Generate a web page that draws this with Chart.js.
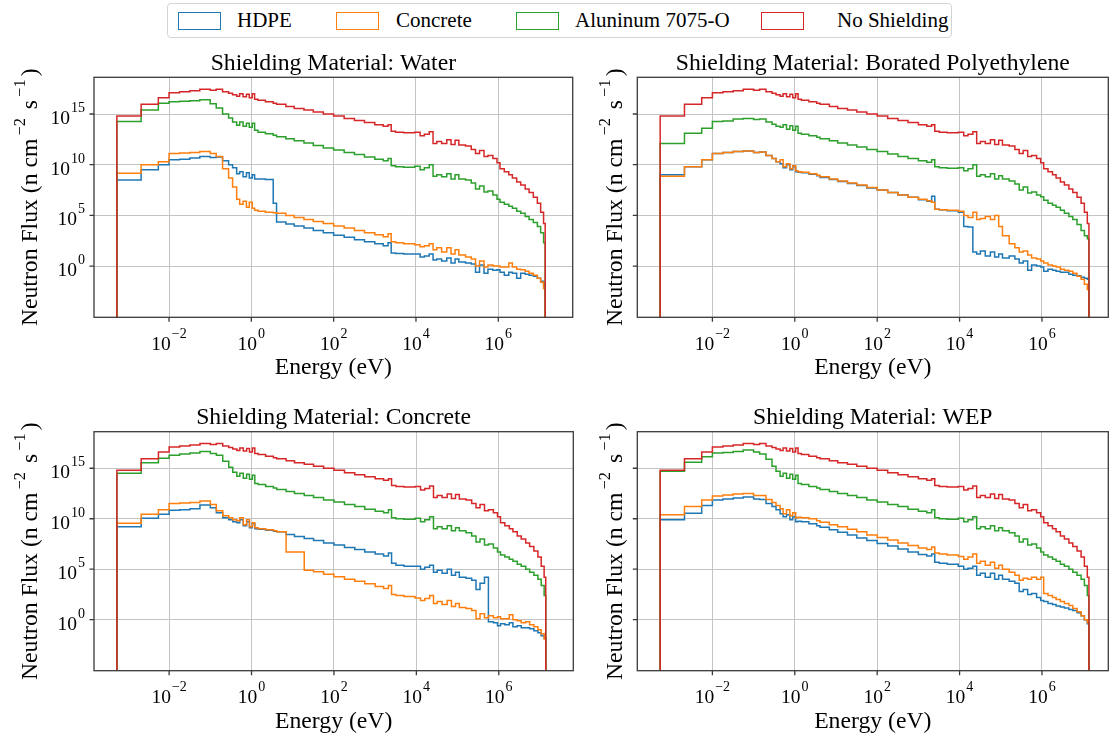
<!DOCTYPE html>
<html>
<head>
<meta charset="utf-8">
<script src="https://cdn.jsdelivr.net/npm/chart.js@4.4.1/dist/chart.umd.min.js"></script>
<style>
  html, body { margin: 0; padding: 0; background: #fff; }
  body { width: 1110px; height: 740px; position: relative; overflow: hidden; font-family: "Liberation Serif", "Times New Roman", serif; }
  canvas { position: absolute; }
  #legend { position: absolute; left: 167px; top: 3px; width: 785px; height: 35px; border: 1px solid #d4d4d4; border-radius: 4px; box-sizing: border-box; }
  #legend .patch { position: absolute; top: 8px; width: 43px; height: 18px; border: 1.5px solid; box-sizing: border-box; }
  #legend .txt { position: absolute; top: 3px; font-size: 21px; line-height: 26px; color: #000; white-space: nowrap; }
</style>
</head>
<body>
<div id="legend">
  <div class="patch" style="left:10px;border-color:#1f77b4"></div><div class="txt" style="left:69px">HDPE</div>
  <div class="patch" style="left:168px;border-color:#ff7f0e"></div><div class="txt" style="left:228px">Concrete</div>
  <div class="patch" style="left:348px;border-color:#2ca02c"></div><div class="txt" style="left:407px">Aluninum 7075-O</div>
  <div class="patch" style="left:593px;border-color:#d62728"></div><div class="txt" style="left:669px">No Shielding</div>
</div>
<canvas id="cWater" width="590" height="350" style="left:0;top:40px"></canvas>
<canvas id="cBorated" width="520" height="350" style="left:590px;top:40px"></canvas>
<canvas id="cConcrete" width="590" height="350" style="left:0;top:390px"></canvas>
<canvas id="cWEP" width="520" height="350" style="left:590px;top:390px"></canvas>
<script>
// Group boundaries (eV); each series holds log10 of the flux in the bin [E_i, E_i+1).
const energyEdges = [5.4e-4, 2.1e-3, 5.5e-3, 1.0e-2, 1.8e-2, 3.2e-2, 5.6e-2, 0.1, 0.14, 0.2,
  0.28, 0.35, 0.44, 0.52, 0.63, 0.76, 0.89, 1.05, 1.2, 1.45,
  2.2, 3.4, 4.1, 6.9, 11, 19, 32, 56, 100, 180,
  320, 560, 1000, 1600, 2100, 2500, 3200, 5000, 9300, 1.26e4,
  1.6e4, 2.1e4, 2.6e4, 3.2e4, 4.2e4, 5.6e4, 7.1e4, 8.9e4, 1.1e5, 1.6e5,
  2.2e5, 2.8e5, 3.5e5, 4.5e5, 5.6e5, 7.4e5, 9.3e5, 1.1e6, 1.4e6, 1.8e6,
  2.2e6, 2.8e6, 3.5e6, 4.5e6, 5.6e6, 7.1e6, 8.9e6, 1.07e7, 1.26e7, 1.38e7];

const noShielding = [14.8, 15.95, 16.6, 17.1, 17.2, 17.3, 17.45, 17.35, 17.45, 17.2,
  17.05, 16.9, 16.75, 17.0, 16.7, 16.95, 16.6, 17.0, 16.45, 16.35,
  16.2, 16.05, 15.95, 15.75, 15.55, 15.4, 15.2, 15.0, 14.8, 14.55,
  14.35, 14.15, 13.95, 13.8, 13.95, 13.3, 13.2, 13.15, 13.2, 12.85,
  13.0, 13.25, 12.1, 12.3, 12.1, 12.45, 12.0, 12.4, 11.95, 11.85,
  11.5, 11.1, 11.4, 10.8, 10.9, 10.6, 10.2, 9.6, 9.3, 9.0,
  8.7, 8.3, 8.0, 7.6, 7.25, 6.8, 6.2, 5.3, 4.2];

// Water
const hdpeWater = [8.5, 9.5, 10.0, 10.5, 10.55, 10.65, 10.8, 10.7, 10.75, 10.4,
  10.0, 9.7, 9.1, 9.3, 8.8, 9.2, 8.7, 9.0, 8.6, 8.6,
  8.55, 6.2, 4.35, 4.15, 3.95, 3.75, 3.5, 3.3, 3.05, 2.85,
  2.6, 2.4, 2.2, 2.0, 2.3, 1.3, 1.25, 1.2, 1.2, 0.9,
  1.0, 1.2, 0.6, 0.7, 0.5, 0.8, 0.3, 0.7, 0.4, 0.3,
  0.2, -0.6, 0.1, -0.7, -0.3, -0.4, -0.35, -0.6, -0.9, -0.6,
  -0.7, -1.2, -0.7, -0.8, -0.9, -1.0, -1.2, -1.5, -1.8];
const concreteWater = [9.15, 10.0, 10.3, 11.1, 11.15, 11.2, 11.3, 11.1, 10.8, 9.6,
  8.7, 7.8, 6.6, 6.1, 6.4, 5.8, 6.3, 5.7, 5.5, 5.4,
  5.3, 5.25, 5.2, 5.0, 4.8, 4.6, 4.4, 4.2, 3.95, 3.75,
  3.5, 3.3, 3.1, 2.9, 3.2, 2.4, 2.3, 2.2, 2.1, 1.9,
  2.0, 2.2, 1.6, 1.8, 1.4, 1.8, 1.2, 1.6, 1.1, 0.9,
  0.7, 0.0, 0.5, -0.1, 0.1, 0.0, 0.0, -0.1, -0.1, 0.3,
  -0.1, -0.3, -0.35, -0.5, -0.7, -0.9, -1.2, -1.6, -2.2];
const aluWater = [14.25, 15.4, 16.05, 16.2, 16.25, 16.3, 16.4, 16.0, 15.6, 15.0,
  14.6, 14.2, 13.9, 14.2, 13.8, 14.1, 13.7, 14.1, 13.4, 13.2,
  13.05, 12.9, 12.75, 12.55, 12.35, 12.15, 11.9, 11.65, 11.45, 11.2,
  11.0, 10.75, 10.55, 10.4, 10.6, 9.9, 9.8, 9.75, 9.85, 9.5,
  9.7, 10.0, 8.85, 9.0, 8.8, 9.1, 8.6, 9.0, 8.6, 8.5,
  8.2, 7.6, 7.9, 7.3, 7.4, 7.0, 6.6, 6.3, 6.1, 5.9,
  5.7, 5.4, 5.2, 4.9, 4.6, 4.3, 3.9, 3.3, 2.3];

// Borated polyethylene
const hdpeBorated = [9.0, 9.8, 10.5, 11.1, 11.2, 11.3, 11.35, 11.2, 11.25, 10.9,
  10.6, 10.3, 10.1, 9.7, 10.0, 9.5, 9.8, 9.3, 9.25, 9.2,
  9.05, 8.9, 8.75, 8.55, 8.35, 8.15, 7.95, 7.7, 7.5, 7.25,
  7.0, 6.8, 6.55, 6.4, 6.9, 5.6, 5.55, 5.45, 5.3, 3.9,
  3.85, 1.4, 1.2, 1.5, 1.0, 1.4, 0.9, 1.2, 0.8, 1.0,
  0.7, 0.3, 0.5, -0.4, 0.1, 0.0, -0.1, -0.5, -0.3, -0.4,
  -0.5, -0.6, -0.6, -0.8, -0.9, -0.95, -1.1, -1.2, -1.3];
const concreteBorated = [8.85, 9.8, 10.5, 11.1, 11.2, 11.3, 11.35, 11.2, 11.25, 10.9,
  10.6, 10.3, 10.5, 9.8, 10.1, 9.6, 9.9, 9.4, 9.3, 9.25,
  9.1, 8.95, 8.8, 8.6, 8.4, 8.2, 8.0, 7.75, 7.5, 7.25,
  7.0, 6.8, 6.6, 6.45, 6.3, 5.6, 5.55, 5.5, 5.4, 5.0,
  4.8, 5.3, 4.6, 4.7, 4.9, 4.6, 5.0, 3.9, 3.0, 2.2,
  1.8, 1.4, 1.5, 1.1, 0.8, 0.7, 0.5, 0.3, 0.1, 0.0,
  -0.1, -0.3, -0.4, -0.5, -0.7, -1.0, -1.3, -1.8, -2.3];
const aluBorated = [12.1, 13.1, 13.6, 14.25, 14.3, 14.5, 14.55, 14.45, 14.5, 14.2,
  14.0, 13.8, 13.7, 13.95, 13.5, 13.85, 13.4, 13.8, 13.1, 13.0,
  12.85, 12.7, 12.55, 12.35, 12.15, 11.95, 11.75, 11.5, 11.3, 11.05,
  10.8, 10.6, 10.4, 10.25, 10.5, 9.8, 9.7, 9.65, 9.7, 9.4,
  9.6, 10.0, 8.85, 9.0, 8.8, 9.1, 8.6, 8.9, 8.6, 8.4,
  8.1, 7.5, 7.8, 7.2, 7.3, 7.0, 6.85, 6.5, 6.2, 6.0,
  5.8, 5.5, 5.2, 4.9, 4.6, 4.1, 3.5, 3.0, 2.7];

// Concrete
const hdpeConcrete = [9.2, 10.05, 10.45, 10.85, 10.9, 11.0, 11.35, 11.1, 10.6, 10.1,
  9.9, 9.7, 9.6, 9.9, 9.3, 9.7, 9.1, 9.5, 9.0, 8.95,
  8.85, 8.75, 8.7, 8.45, 8.25, 8.05, 7.85, 7.6, 7.4, 7.15,
  6.95, 6.7, 6.5, 6.3, 6.6, 5.6, 5.4, 5.3, 5.3, 5.0,
  5.2, 5.4, 4.7, 4.9, 4.6, 5.0, 4.4, 4.7, 4.2, 4.1,
  3.9, 3.0, 3.6, 4.2, -0.2, -0.3, -0.6, -0.4, -0.5, -0.3,
  -0.7, -0.6, -0.8, -0.8, -0.9, -1.1, -1.3, -1.6, -1.8];
const concreteConcrete = [9.55, 10.45, 10.9, 11.5, 11.55, 11.6, 11.75, 11.4, 10.8, 10.3,
  10.1, 9.9, 9.8, 10.1, 9.4, 9.9, 9.2, 9.6, 9.1, 9.0,
  8.9, 8.8, 8.7, 6.7, 6.7, 4.9, 4.75, 4.5, 4.25, 4.0,
  3.8, 3.55, 3.3, 3.1, 3.4, 2.5, 2.4, 2.3, 2.15, 1.9,
  2.1, 2.4, 1.6, 1.8, 1.5, 1.9, 1.3, 1.6, 1.2, 1.1,
  0.9, 0.1, 0.6, 0.2, 0.4, 0.2, 0.3, 0.1, 0.1, 0.5,
  0.0, -0.1, -0.3, -0.2, -0.5, -0.7, -1.0, -1.4, -1.9];
const aluConcrete = [14.5, 15.55, 16.0, 16.3, 16.4, 16.5, 16.65, 16.45, 16.3, 15.7,
  15.1, 14.6, 14.2, 14.5, 14.0, 14.4, 13.9, 14.3, 13.5, 13.4,
  13.2, 13.05, 12.9, 12.7, 12.5, 12.3, 12.1, 11.85, 11.65, 11.4,
  11.2, 10.95, 10.75, 10.6, 10.9, 10.1, 10.0, 9.95, 10.05, 9.7,
  9.9, 10.2, 9.0, 9.2, 9.0, 9.3, 8.8, 9.1, 8.8, 8.6,
  8.3, 7.7, 8.0, 7.4, 7.5, 7.1, 6.7, 6.4, 6.2, 6.0,
  5.8, 5.5, 5.3, 5.0, 4.7, 4.4, 4.0, 3.4, 2.4];

// WEP
const hdpeWEP = [9.9, 10.55, 11.3, 11.85, 11.95, 12.05, 12.15, 11.95, 11.9, 11.5,
  11.2, 10.9, 10.5, 10.2, 10.4, 9.9, 10.2, 9.7, 9.75, 9.7,
  9.5, 9.3, 9.15, 8.9, 8.65, 8.4, 8.1, 7.85, 7.55, 7.3,
  7.0, 6.7, 6.45, 6.3, 6.5, 5.7, 5.6, 5.5, 5.3, 5.0,
  5.1, 5.3, 4.4, 4.6, 4.2, 4.6, 4.0, 4.4, 4.0, 3.8,
  3.6, 2.8, 3.0, 2.5, 2.6, 2.2, 1.9, 1.8, 1.6, 1.5,
  1.35, 1.25, 1.15, 1.0, 0.9, 0.7, 0.4, 0.0, -0.4];
const concreteWEP = [10.4, 11.2, 11.85, 12.25, 12.35, 12.45, 12.5, 12.3, 12.3, 11.9,
  11.6, 11.3, 11.0, 10.5, 10.9, 10.3, 10.6, 10.1, 10.15, 10.1,
  10.0, 9.8, 9.65, 9.4, 9.2, 8.95, 8.7, 8.4, 8.15, 7.9,
  7.6, 7.35, 7.1, 6.95, 7.2, 6.6, 6.5, 6.4, 6.25, 6.0,
  6.2, 6.5, 5.6, 5.8, 5.4, 5.7, 5.1, 5.4, 5.0, 4.7,
  4.4, 3.9, 4.1, 4.0, 4.2, 4.0, 4.2, 2.6, 2.4, 2.2,
  2.0, 1.8, 1.6, 1.4, 1.1, 0.8, 0.4, 0.0, -0.3];
const aluWEP = [14.7, 15.6, 16.15, 16.5, 16.55, 16.65, 16.8, 16.6, 16.4, 15.9,
  15.2, 14.7, 14.2, 14.5, 14.0, 14.4, 13.9, 14.3, 13.5, 13.4,
  13.2, 13.05, 12.9, 12.7, 12.5, 12.3, 12.1, 11.85, 11.65, 11.4,
  11.2, 10.95, 10.75, 10.6, 10.9, 10.1, 10.0, 9.95, 10.05, 9.7,
  9.9, 10.2, 9.0, 9.2, 9.0, 9.3, 8.8, 9.1, 8.8, 8.6,
  8.3, 7.7, 8.0, 7.4, 7.5, 7.1, 6.7, 6.4, 6.2, 6.0,
  5.8, 5.5, 5.3, 5.0, 4.7, 4.4, 4.0, 3.4, 2.4];

const seriesNames = ["HDPE", "Concrete", "Aluninum 7075-O", "No Shielding"];
const xTickVals = [1e-2, 1, 1e2, 1e4, 1e6];
const yTickVals = [1, 1e5, 1e10, 1e15];

const COLORS = ["#1f77b4", "#ff7f0e", "#2ca02c", "#d62728"];
const SERIF = "'Liberation Serif', 'Times New Roman', serif";
const GRID = "#c4c4c4";
const SPINE = "#3a3a3a";
const LABEL_PX = 23.7;
const FLOOR = 1e-9; // zero flux outside the group range, falls below the axis

// histogram-style outline: rise at the first edge, drop at the last one
function stepPoints(logFlux) {
  const pts = [{ x: energyEdges[0], y: FLOOR }];
  logFlux.forEach((v, i) => pts.push({ x: energyEdges[i], y: Math.pow(10, v) }));
  pts.push({ x: energyEdges[energyEdges.length - 1], y: FLOOR });
  return pts;
}

// "10" with a raised exponent, anchored at (x, baseline)
function drawPow(ctx, exp, x, base, align, size) {
  const big = size, small = size * 0.72;
  const e = (exp < 0 ? "\u2212" : "") + Math.abs(exp);
  ctx.font = big + "px " + SERIF;
  const w1 = ctx.measureText("10").width;
  ctx.font = small + "px " + SERIF;
  const w2 = ctx.measureText(e).width;
  const w = w1 + w2 + 1;
  let x0 = align === "center" ? x - w / 2 : x - w;
  ctx.textAlign = "left";
  ctx.textBaseline = "alphabetic";
  ctx.font = big + "px " + SERIF;
  ctx.fillText("10", x0, base);
  ctx.font = small + "px " + SERIF;
  ctx.fillText(e, x0 + w1 + 1, base - size * 0.62);
}

const panelDecor = {
  id: "panelDecor",
  afterDraw(chart) {
    const o = chart.options.plugins.panelDecor;
    const { ctx, chartArea: a } = chart;
    const xs = chart.scales.x, ys = chart.scales.y;
    ctx.save();
    ctx.fillStyle = "#000";
    // frame and outward ticks
    ctx.strokeStyle = SPINE;
    ctx.lineWidth = 1.3;
    ctx.strokeRect(a.left, a.top, a.right - a.left, a.bottom - a.top);
    ctx.beginPath();
    xTickVals.forEach(v => { const p = xs.getPixelForValue(v); ctx.moveTo(p, a.bottom); ctx.lineTo(p, a.bottom + 4.5); });
    yTickVals.forEach(v => { const p = ys.getPixelForValue(v); ctx.moveTo(a.left, p); ctx.lineTo(a.left - 4.5, p); });
    ctx.stroke();
    // tick labels
    xTickVals.forEach(v => drawPow(ctx, Math.round(Math.log10(v)), xs.getPixelForValue(v), a.bottom + 32.7, "center", 19.5));
    if (o.yLabels) {
      yTickVals.forEach(v => drawPow(ctx, Math.round(Math.log10(v)), a.left - 9, ys.getPixelForValue(v) + 10, "right", 19.5));
    }
    const cx = (a.left + a.right) / 2, cy = (a.top + a.bottom) / 2;
    ctx.textAlign = "center";
    ctx.textBaseline = "alphabetic";
    ctx.font = LABEL_PX + "px " + SERIF;
    ctx.fillText(o.title, cx, a.top - 7.3);
    ctx.fillText("Energy (eV)", cx, a.bottom + 57);
    // rotated y title with superscripts
    const parts = [["Neutron Flux (n cm", 0], ["\u22122", 1], [" s", 0], ["\u22121", 1], [")", 0]];
    const fontFor = sup => (sup ? "16.5px " : LABEL_PX + "px ") + SERIF;
    const gap = 3;
    let total = 0;
    parts.forEach(([t, s]) => { ctx.font = fontFor(s); total += ctx.measureText(t).width + (s ? 2 * gap : 0); });
    ctx.translate(a.left - o.yTitleGap, cy);
    ctx.rotate(-Math.PI / 2);
    ctx.textAlign = "left";
    let px = -total / 2;
    parts.forEach(([t, s]) => {
      ctx.font = fontFor(s);
      ctx.fillText(t, px + (s ? gap : 0), s ? -12 : 0);
      px += ctx.measureText(t).width + (s ? 2 * gap : 0);
    });
    ctx.restore();
  }
};

const panels = [
  { canvas: "cWater", title: "Shielding Material: Water", series: [hdpeWater, concreteWater, aluWater],
    xMaxExp: 7.808, yLabels: true, yTitleGap: 57, pad: { left: 94, top: 37.3, right: 17.3, bottom: 72.7 } },
  { canvas: "cBorated", title: "Shielding Material: Borated Polyethylene", series: [hdpeBorated, concreteBorated, aluBorated],
    xMaxExp: 7.61, yLabels: false, yTitleGap: 15.3, pad: { left: 47.3, top: 37.3, right: 1.7, bottom: 72.7 } },
  { canvas: "cConcrete", title: "Shielding Material: Concrete", series: [hdpeConcrete, concreteConcrete, aluConcrete],
    xMaxExp: 7.808, yLabels: true, yTitleGap: 57, pad: { left: 94, top: 41.7, right: 16.7, bottom: 69.3 } },
  { canvas: "cWEP", title: "Shielding Material: WEP", series: [hdpeWEP, concreteWEP, aluWEP],
    xMaxExp: 7.61, yLabels: false, yTitleGap: 15.3, pad: { left: 47.3, top: 41.7, right: 1.7, bottom: 69.3 } }
];

panels.forEach(p => {
  const all = [...p.series, noShielding];
  new Chart(document.getElementById(p.canvas), {
    type: "line",
    data: {
      datasets: all.map((s, i) => ({
        label: seriesNames[i],
        data: stepPoints(s),
        borderColor: COLORS[i],
        borderWidth: 1.5,
        stepped: true,
        pointRadius: 0,
        fill: false,
        order: all.length - 1 - i
      }))
    },
    options: {
      responsive: false,
      animation: false,
      devicePixelRatio: 1,
      layout: { padding: p.pad },
      plugins: {
        legend: { display: false },
        tooltip: { enabled: false },
        panelDecor: { title: p.title, yLabels: p.yLabels, yTitleGap: p.yTitleGap }
      },
      scales: {
        x: {
          type: "logarithmic",
          min: Math.pow(10, -3.823),
          max: Math.pow(10, p.xMaxExp),
          afterBuildTicks: s => { s.ticks = xTickVals.map(v => ({ value: v })); },
          ticks: { display: false },
          grid: { color: GRID, lineWidth: 1, drawTicks: false },
          border: { display: false }
        },
        y: {
          type: "logarithmic",
          min: Math.pow(10, -5.05),
          max: Math.pow(10, 18.62),
          afterBuildTicks: s => { s.ticks = yTickVals.map(v => ({ value: v })); },
          ticks: { display: false },
          grid: { color: GRID, lineWidth: 1, drawTicks: false },
          border: { display: false }
        }
      }
    },
    plugins: [panelDecor]
  });
});
</script>
</body>
</html>
